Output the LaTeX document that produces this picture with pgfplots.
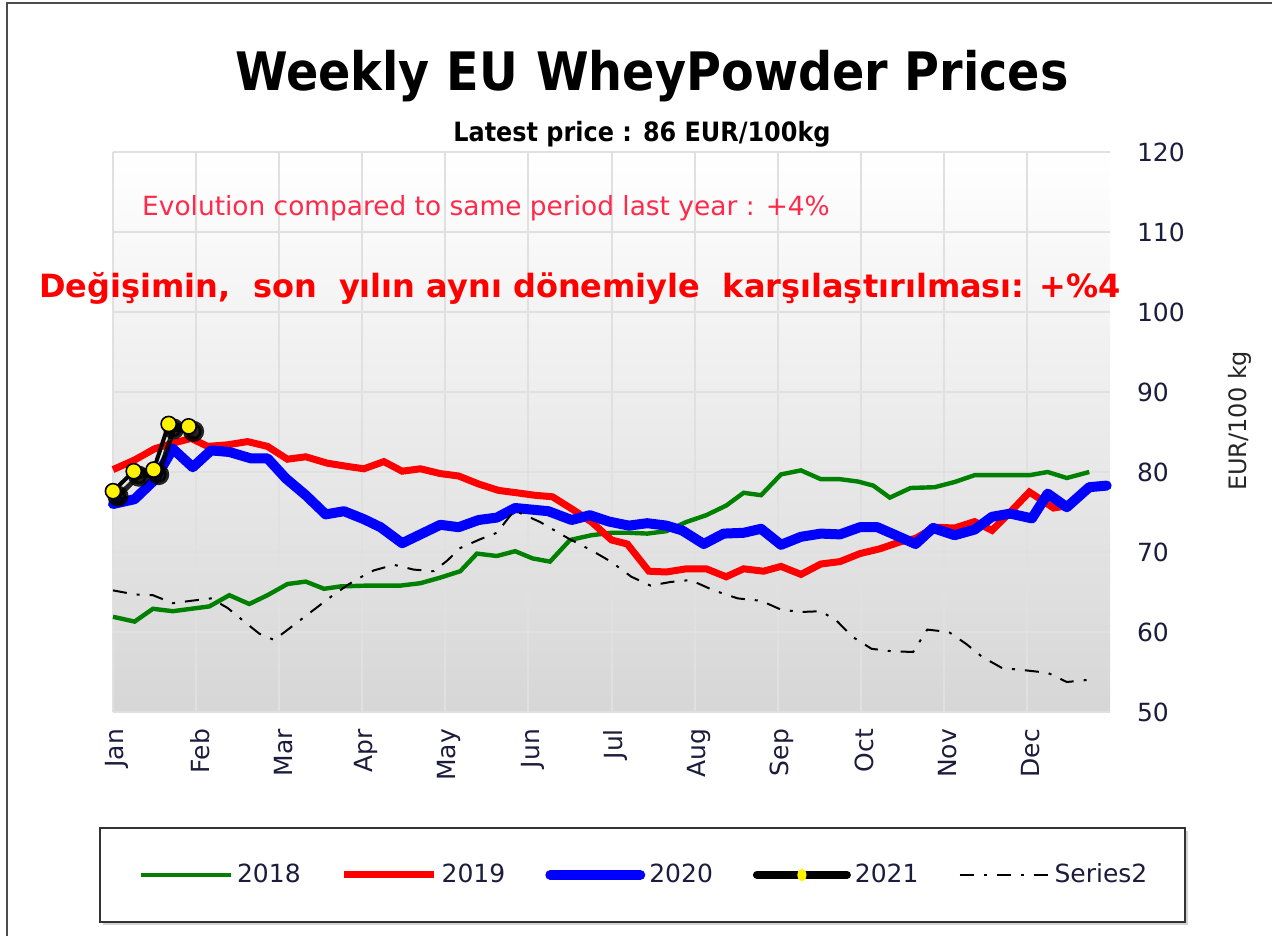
\documentclass[border=0pt]{standalone}
\usepackage{fontspec}
\setmainfont{DejaVu Sans}
\newfontfamily\cond{DejaVu Sans Condensed}
\usepackage{pgfplots}
\pgfplotsset{compat=1.18}
\usetikzlibrary{shadows}
\definecolor{tickc}{HTML}{1C1C3C}
\definecolor{evored}{HTML}{FF2A4A}
\definecolor{g18}{HTML}{008000}
\begin{document}
\begin{tikzpicture}
\useasboundingbox (0pt,0pt) rectangle (636pt,468pt);
\draw[black!70, line width=1pt] (3.5pt,0pt) -- (3.5pt,466.3pt) -- (636pt,466.3pt);
% legend box
\draw[black!80, line width=1pt, fill=white, drop shadow={shadow xshift=1.5pt, shadow yshift=-1.5pt, opacity=0.35}] (50pt,7pt) rectangle (592.5pt,54pt);
\begin{axis}[
  at={(56.5pt,112pt)}, anchor=south west,
  width=498.5pt, height=280pt, scale only axis,
  xmin=0, xmax=12, ymin=50, ymax=120,
  clip=false,
  axis line style={draw=none},
  major tick length=0pt,
  axis background/.style={top color=white, bottom color=black!16},
  grid=major,
  grid style={black!12, line width=1pt},
  xtick={0,1,2,3,4,5,6,7,8,9,10,11},
  xticklabels={Jan,Feb,Mar,Apr,May,Jun,Jul,Aug,Sep,Oct,Nov,Dec},
  xticklabel style={rotate=90, anchor=east, font=\fontsize{12.5}{15}\selectfont, text=tickc, xshift=-5pt, yshift=-2pt},
  ytick={50,60,70,80,90,100,110,120},
  yticklabel pos=right,
  yticklabel style={font=\fontsize{12.5}{15}\selectfont, text=tickc, anchor=west, xshift=10pt},
  /pgf/number format/assume math mode=true,
  ylabel={EUR/100 kg},
  ylabel style={at={(axis description cs:1.13,0.52)}, anchor=center, rotate=0, font=\fontsize{12}{14}\selectfont, text=black!85},
  legend columns=5,
  legend style={draw=none, fill=none, at={(axis description cs:0.5336,-0.291)}, anchor=center,
    font=\fontsize{12.5}{15}\selectfont, text=tickc,
    /tikz/every even column/.append style={column sep=18pt}},
  legend image code/.code={\draw[#1] (0pt,0pt) -- (45pt,0pt);},
]
\addplot[g18, line width=2.2pt] coordinates {
(0,61.9) (0.26,61.3) (0.48,62.9) (0.72,62.6) (0.94,62.9) (1.16,63.2) (1.40,64.6) (1.64,63.5) (1.86,64.6) (2.10,66.0) (2.32,66.3) (2.54,65.4) (2.74,65.7) (3.06,65.8) (3.46,65.8) (3.70,66.1) (3.94,66.8) (4.18,67.6) (4.38,69.8) (4.62,69.5) (4.84,70.1) (5.05,69.2) (5.26,68.8) (5.50,71.5) (5.76,72.1) (6.0,72.4) (6.22,72.4) (6.43,72.3) (6.66,72.6) (6.90,73.75) (7.14,74.6) (7.38,75.8) (7.59,77.4) (7.80,77.1) (8.04,79.7) (8.28,80.2) (8.52,79.1) (8.75,79.1) (8.97,78.8) (9.15,78.3) (9.35,76.8) (9.6,78.0) (9.89,78.1) (10.13,78.75) (10.37,79.6) (10.6,79.6) (10.8,79.6) (11.03,79.6) (11.25,80) (11.48,79.25) (11.75,80)
};
\addlegendentry{2018}
\addplot[red, line width=3.5pt] coordinates {
(0,80.3) (0.26,81.5) (0.5,82.9) (0.72,83.6) (0.94,84.2) (1.14,83.2) (1.38,83.4) (1.62,83.8) (1.86,83.2) (2.1,81.6) (2.32,81.9) (2.58,81.1) (2.82,80.7) (3.02,80.4) (3.26,81.3) (3.48,80.1) (3.70,80.4) (3.94,79.8) (4.16,79.5) (4.40,78.5) (4.64,77.7) (4.86,77.4) (5.07,77.1) (5.29,76.9) (5.52,75.4) (5.76,73.75) (6.0,71.5) (6.19,71.0) (6.45,67.6) (6.66,67.5) (6.90,67.9) (7.14,67.9) (7.38,66.9) (7.59,67.9) (7.83,67.6) (8.04,68.2) (8.28,67.2) (8.52,68.5) (8.75,68.8) (8.99,69.8) (9.23,70.4) (9.47,71.25) (9.66,71.7) (9.89,73.1) (10.13,73.0) (10.37,73.8) (10.58,72.7) (10.80,75) (11.03,77.5) (11.32,75.5) (11.5,75.8)
};
\addlegendentry{2019}
\addplot[blue, line width=5pt, line join=round, line cap=round] coordinates {
(0,76.0) (0.26,76.6) (0.5,79.0) (0.72,82.9) (0.96,80.6) (1.18,82.7) (1.40,82.5) (1.66,81.7) (1.86,81.7) (2.08,79.2) (2.32,77.1) (2.56,74.7) (2.78,75.1) (3.02,74.1) (3.22,73.1) (3.48,71.1) (3.70,72.2) (3.94,73.4) (4.16,73.1) (4.40,74.0) (4.62,74.3) (4.84,75.5) (5.24,75.1) (5.52,74.0) (5.74,74.6) (5.97,73.8) (6.21,73.3) (6.43,73.6) (6.66,73.3) (6.85,72.7) (7.11,71.0) (7.35,72.3) (7.59,72.4) (7.80,72.9) (8.04,70.9) (8.28,71.9) (8.52,72.3) (8.75,72.2) (8.99,73.1) (9.20,73.1) (9.42,72.1) (9.66,71.0) (9.87,73.0) (10.13,72.1) (10.37,72.8) (10.58,74.4) (10.80,74.8) (11.06,74.2) (11.25,77.3) (11.48,75.6) (11.75,78.1) (11.96,78.3)
};
\addlegendentry{2020}
\addplot[forget plot, black, opacity=0.85, line width=2.5pt, xshift=2.5pt, yshift=-2.5pt, mark=*, mark size=4pt, mark options={fill=black, draw=black}] coordinates {
(0,77.6) (0.25,80.1) (0.49,80.3) (0.67,86.0) (0.91,85.7)
};
\addplot[black, line width=2pt, mark=*, mark size=3.8pt, mark options={fill=yellow, draw=black, line width=0.8pt},
  legend image code/.code={\draw[black, line width=4pt, line cap=round] (0pt,0pt) -- (45pt,0pt); \fill[yellow] (22.5pt,0pt) ellipse (1.3pt and 2pt);}] coordinates {
(0,77.6) (0.25,80.1) (0.49,80.3) (0.67,86.0) (0.91,85.7)
};
\addlegendentry{2021}
\addplot[black, line width=1pt, dash pattern=on 7pt off 5pt on 1.5pt off 5pt] coordinates {
(0,65.2) (0.26,64.7) (0.48,64.6) (0.72,63.6) (0.94,63.9) (1.18,64.2) (1.38,63.0) (1.58,61.3) (1.76,59.8) (1.94,59.0) (2.18,60.9) (2.42,62.8) (2.66,64.7) (2.9,66.4) (3.14,67.7) (3.38,68.4) (3.62,67.8) (3.86,67.6) (4.02,68.9) (4.18,70.5) (4.42,71.6) (4.62,72.4) (4.83,75.2) (5.14,73.75) (5.48,71.7) (5.76,70.2) (6.0,68.75) (6.24,66.9) (6.47,65.8) (6.71,66.25) (6.95,66.5) (7.23,65.2) (7.52,64.2) (7.80,63.9) (8.04,62.8) (8.28,62.5) (8.52,62.6) (8.71,61.4) (8.90,59.4) (9.13,57.9) (9.37,57.6) (9.63,57.5) (9.80,60.3) (10.06,60.0) (10.27,58.5) (10.46,56.9) (10.70,55.5) (10.99,55.2) (11.25,54.9) (11.48,53.75) (11.72,54.0)
};
\addlegendentry{Series2}
\end{axis}
\node[font=\cond\bfseries\fontsize{26.5}{31}\selectfont] at (326pt,430pt) {Weekly EU\hspace{0.35em}WheyPowder Prices};
\node[font=\cond\bfseries\fontsize{13.3}{16}\selectfont] at (321pt,401pt) {Latest price : 86 EUR/100kg};
\node[font=\fontsize{13.2}{16}\selectfont, text=evored] at (243pt,364pt) {Evolution compared to same period last year : +4\%};
\node[font=\bfseries\fontsize{16}{19}\selectfont, text=red] at (290pt,324pt) {Değişimin,\ \ son\ \ yılın aynı dönemiyle\ \ karşılaştırılması: +\%4};
\end{tikzpicture}
\end{document}
